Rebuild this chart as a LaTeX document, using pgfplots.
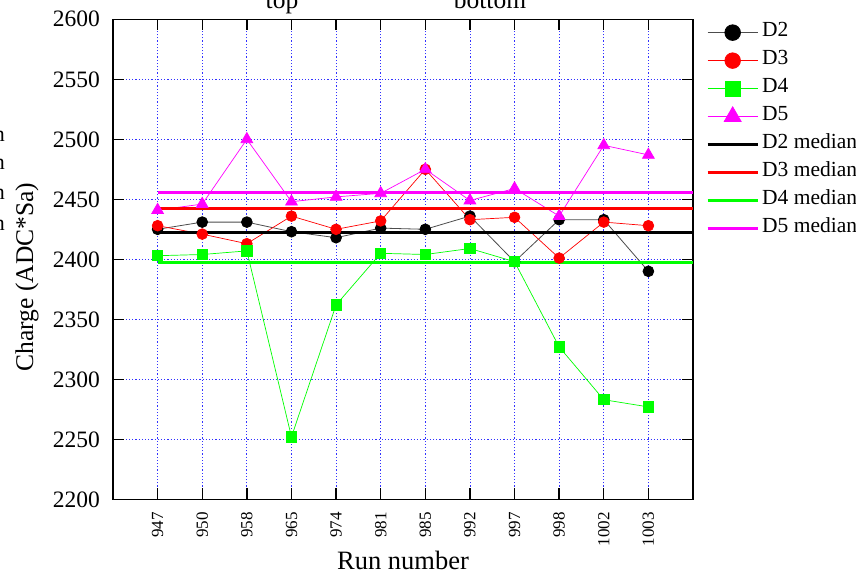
\documentclass[border=0pt]{standalone}
\usepackage{pgfplots}
\pgfplotsset{compat=1.18}
\usepackage{fontspec}
\setmainfont{Liberation Serif}
\definecolor{gridblue}{RGB}{50,50,255}
\definecolor{mag}{RGB}{255,0,255}
\definecolor{grn}{RGB}{0,255,0}
\definecolor{rd}{RGB}{255,0,0}
\begin{document}
\begin{tikzpicture}
\begin{axis}[
  at={(113pt,74.7pt)}, anchor=south west,
  width=580pt, height=480pt, scale only axis,
  xmin=-1, xmax=12, ymin=2200, ymax=2600,
  xtick={0,...,11},
  xticklabels={947,950,958,965,974,981,985,992,997,998,1002,1003},
  ytick={2200,2250,...,2600},
  /pgf/number format/assume math mode=true,
  /pgf/number format/1000 sep={},
  tick align=inside,
  major tick length=11pt,
  tick style={black, line width=1.4pt},
  axis line style={line width=1.5pt},
  grid=major,
  grid style={gridblue, line width=0.8pt, dash pattern=on 1.2pt off 2pt},
  yticklabel style={font=\fontsize{23.5}{26}\selectfont, inner sep=0pt, xshift=-13pt},
  xticklabel style={font=\fontsize{17}{18}\selectfont, rotate=90, anchor=east, inner sep=12.5pt},
  xlabel={Run number},
  xlabel style={font=\fontsize{26.5}{30}\selectfont, at={(axis description cs:0.5,-0.1452)}, anchor=base},
  ylabel={Charge (ADC*Sa)},
  ylabel style={font=\fontsize{25.5}{30}\selectfont, at={(axis description cs:-0.1379,0.463)}, anchor=base, rotate=0},
  legend cell align=left,
  legend image code/.code={\draw[mark repeat=2, mark phase=2, #1, every mark/.append style={scale=1.45}] plot coordinates {(0pt,0pt) (25pt,0pt) (50pt,0pt)};},
  legend style={draw=none, fill=none, font=\fontsize{21.5}{25}\selectfont,
    at={(axis description cs:1.0172,1.006)}, anchor=north west,
    row sep=0pt, nodes={inner sep=3pt, text height=15pt, text depth=7pt}},
]
\addplot[color=black!70, line width=0.8pt, mark=*, mark size=5.4pt, mark options={solid, fill=black, draw=black}]
  coordinates {(0,2425) (1,2431) (2,2431) (3,2423) (4,2418) (5,2426) (6,2425) (7,2436) (8,2398) (9,2433) (10,2433) (11,2390)};
\addlegendentry{D2}
\addplot[color=rd, line width=0.7pt, mark=*, mark size=5.4pt, mark options={solid, fill=rd, draw=rd}]
  coordinates {(0,2428) (1,2421) (2,2413) (3,2436) (4,2425) (5,2432) (6,2475) (7,2433) (8,2435) (9,2401) (10,2431) (11,2428)};
\addlegendentry{D3}
\addplot[color=grn, line width=0.7pt, mark=square*, mark size=5.1pt, mark options={solid, fill=grn, draw=grn}]
  coordinates {(0,2403) (1,2404) (2,2407) (3,2252) (4,2362) (5,2405) (6,2404) (7,2409) (8,2398) (9,2327) (10,2283) (11,2277)};
\addlegendentry{D4}
\addplot[color=mag, line width=0.7pt, mark=triangle*, mark size=6.8pt, mark options={solid, fill=mag, draw=mag}]
  coordinates {(0,2441) (1,2446) (2,2500) (3,2448) (4,2452) (5,2455) (6,2475) (7,2449) (8,2459) (9,2436) (10,2495) (11,2487)};
\addlegendentry{D5}
\addplot[black, line width=3pt] coordinates {(0,2422) (12,2422)};
\addlegendentry{D2 median}
\addplot[rd, line width=3pt] coordinates {(0,2442) (12,2442)};
\addlegendentry{D3 median}
\addplot[grn, line width=3pt] coordinates {(0,2397) (12,2397)};
\addlegendentry{D4 median}
\addplot[mag, line width=3pt] coordinates {(0,2456) (12,2456)};
\addlegendentry{D5 median}
\end{axis}
\node[font=\fontsize{25.5}{30}\selectfont, anchor=base, inner sep=0pt] at (282pt,565pt) {top};
\node[font=\fontsize{25.5}{30}\selectfont, anchor=base, inner sep=0pt] at (490pt,565pt) {bottom};
\foreach \t/\y in {D2 median/432, D3 median/404, D4 median/374, D5 median/344}
  \node[font=\fontsize{22}{26}\selectfont, anchor=base east, inner sep=0pt] at (5pt,\y pt) {\t};
\pgfresetboundingbox
\path[use as bounding box] (0,0) rectangle (856pt,574pt);
\end{tikzpicture}
\end{document}
